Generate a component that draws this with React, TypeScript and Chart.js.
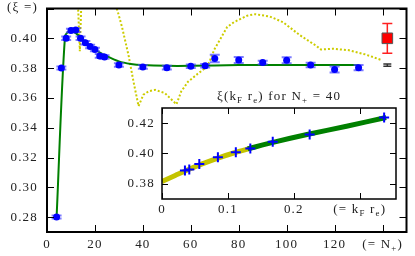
import { useEffect, useRef } from "react";
import { Chart, registerables } from "chart.js";

Chart.register(...registerables);

// ---------- main panel data ----------
const N_VALUES = [4, 6, 8, 10, 12, 14, 16, 18, 20, 22, 24, 30, 40, 50, 60, 66, 70, 80, 90, 100, 110, 120, 130];
const XI_VALUES = [0.28, 0.38, 0.4, 0.4052, 0.4055, 0.4, 0.397, 0.3945, 0.3925, 0.3882, 0.3875, 0.3821, 0.3808, 0.3803, 0.3812, 0.3816, 0.3864, 0.3855, 0.3838, 0.3853, 0.3821, 0.379, 0.3803];
const XI_ERRORS = [0.001, 0.001, 0.0012, 0.0012, 0.0012, 0.0012, 0.0012, 0.0012, 0.0012, 0.0012, 0.0012, 0.0012, 0.0012, 0.0012, 0.0012, 0.0012, 0.0025, 0.002, 0.0012, 0.002, 0.0015, 0.002, 0.0018];

const FIT_N = [4, 7.5, 9.5, 12, 15, 20, 25, 30, 35, 40, 50, 60, 80, 100, 130];
const FIT_XI = [0.28, 0.401, 0.405, 0.4035, 0.399, 0.3925, 0.388, 0.3845, 0.3828, 0.382, 0.3815, 0.3815, 0.382, 0.382, 0.382];

const DOT_N = [12.75, 13.7, 14.45, 20, 26.8, 29.5, 31.3, 34.1, 36.1, 38.2, 40.2, 42.5, 45.1, 49.2, 54.0, 56.0, 58.8, 62.9, 65.6, 67.7, 69.8, 72.5, 75.2, 78.0, 83.5, 86.9, 93.0, 98.5, 105.4, 112.3, 114.3, 119.1, 126.0, 132.8, 139.7];
const DOT_XI = [0.43, 0.3913, 0.43, null, 0.43, 0.418, 0.4076, 0.388, 0.3708, 0.3545, 0.3621, 0.3645, 0.3654, 0.3632, 0.3557, 0.3643, 0.3708, 0.3762, 0.3795, 0.3838, 0.3925, 0.4, 0.4076, 0.4108, 0.4152, 0.4162, 0.4146, 0.4108, 0.4022, 0.395, 0.3925, 0.393, 0.392, 0.3892, 0.3853];

const EXP_N = [142];
const EXP_XI = [0.4];
const EXP_ERR = [0.01];

const REF_N = [142];
const REF_XI = [0.382];
const REF_ERR = [0.0007];

const MAIN_X_TICKS = [0, 20, 40, 60, 80, 100, 120, 140];
const MAIN_X_LABELS = ["0", "20", "40", "60", "80", "100", "120", "(= N_+)"];
const MAIN_Y_TICKS = [0.28, 0.3, 0.32, 0.34, 0.36, 0.38, 0.4, 0.42];
const MAIN_Y_LABELS = ["0.28", "0.30", "0.32", "0.34", "0.36", "0.38", "0.40", "(ξ =)"];

// ---------- inset data ----------
const INSET_TITLE = "ξ(k_F r_e) for N_+ = 40";
const INSET_KR = [0.0348, 0.0414, 0.0566, 0.0848, 0.112, 0.134, 0.168, 0.224, 0.337];
const INSET_XI = [0.3888, 0.3894, 0.393, 0.3976, 0.4009, 0.4033, 0.4077, 0.4125, 0.4237];
const BAND_Y_KR = [0, 0.02, 0.035, 0.06, 0.085, 0.11, 0.135];
const BAND_Y_XI = [0.3815, 0.3855, 0.3885, 0.393, 0.397, 0.4005, 0.4035];
const BAND_G_KR = [0.13, 0.17, 0.22, 0.28, 0.34];
const BAND_G_XI = [0.403, 0.4075, 0.4125, 0.418, 0.4237];
const INSET_X_TICKS = [0, 0.1, 0.2, 0.3];
const INSET_X_LABELS = ["0", "0.1", "0.2", "(= k_F r_e)"];
const INSET_Y_TICKS = [0.38, 0.4, 0.42];
const INSET_Y_LABELS = ["0.38", "0.40", "0.42"];

const FONT_FAMILY = '"Liberation Serif", serif';
const FONT_SIZE = 13;
const TEXT_COLOR = "#222";

function pts(xs: number[], ys: (number | null)[]) {
  return xs.map((x, i) => ({ x, y: ys[i] }));
}

type Part = { t: string; sub: boolean };
function parseRich(s: string): Part[] {
  const parts: Part[] = [];
  let buf = "";
  for (let i = 0; i < s.length; i++) {
    if (s[i] === "_" && i + 1 < s.length) {
      if (buf) parts.push({ t: buf, sub: false });
      buf = "";
      parts.push({ t: s[i + 1], sub: true });
      i++;
    } else buf += s[i];
  }
  if (buf) parts.push({ t: buf, sub: false });
  return parts;
}

function drawRich(ctx: CanvasRenderingContext2D, s: string, x: number, y: number, align: "left" | "center" | "right", size = FONT_SIZE) {
  const parts = parseRich(s);
  ctx.save();
  ctx.textAlign = "left";
  ctx.textBaseline = "middle";
  ctx.fillStyle = TEXT_COLOR;
  (ctx as any).letterSpacing = "1.2px";
  const widths = parts.map((p) => {
    ctx.font = `${p.sub ? size * 0.68 : size}px ${FONT_FAMILY}`;
    return ctx.measureText(p.t).width;
  });
  const total = widths.reduce((a, b) => a + b, 0);
  let cx = align === "center" ? x - total / 2 : align === "right" ? x - total : x;
  parts.forEach((p, i) => {
    ctx.font = `${p.sub ? size * 0.68 : size}px ${FONT_FAMILY}`;
    ctx.fillText(p.t, cx, p.sub ? y + size * 0.28 : y);
    cx += widths[i];
  });
  ctx.restore();
}

const errorBars = {
  id: "errorBars",
  beforeDatasetDraw(chart: any, args: any) {
    const ds = chart.data.datasets[args.index];
    if (!ds.errors) return;
    const { ctx } = chart;
    const yScale = chart.scales.y;
    ctx.save();
    ctx.strokeStyle = ds.errorColor;
    ctx.lineWidth = ds.errorWidth || 1.5;
    args.meta.data.forEach((el: any, j: number) => {
      const v = ds.data[j].y;
      const e = ds.errors[j];
      const x = el.x;
      const y1 = yScale.getPixelForValue(v - e);
      const y2 = yScale.getPixelForValue(v + e);
      const c = ds.capHalf || 5;
      ctx.beginPath();
      ctx.moveTo(x, y1);
      ctx.lineTo(x, y2);
      ctx.moveTo(x - c, y1);
      ctx.lineTo(x + c, y1);
      ctx.moveTo(x - c, y2);
      ctx.lineTo(x + c, y2);
      ctx.stroke();
    });
    ctx.restore();
  },
};

function makeFrame(id: string, opts: {
  xt: number[]; xl: string[]; yt: number[]; yl: string[]; tick: number; border: number;
  yLabelGap: number; xLabelGap: number; whiteBg: boolean; title?: string; topLabelY?: number;
}) {
  return {
    id,
    beforeDraw(chart: any) {
      if (!opts.whiteBg) return;
      const { ctx, chartArea: a } = chart;
      ctx.save();
      ctx.fillStyle = "#fff";
      ctx.fillRect(a.left, a.top, a.right - a.left, a.bottom - a.top);
      ctx.restore();
    },
    afterDraw(chart: any) {
      const { ctx, chartArea: a } = chart;
      const xs = chart.scales.x;
      const ys = chart.scales.y;
      ctx.save();
      ctx.strokeStyle = "#000";
      ctx.lineWidth = 1;
      ctx.beginPath();
      opts.xt.forEach((v) => {
        const px = Math.round(xs.getPixelForValue(v)) + 0.5;
        ctx.moveTo(px, a.bottom);
        ctx.lineTo(px, a.bottom - opts.tick);
        ctx.moveTo(px, a.top);
        ctx.lineTo(px, a.top + opts.tick);
      });
      opts.yt.forEach((v) => {
        const py = Math.round(ys.getPixelForValue(v)) + 0.5;
        ctx.moveTo(a.left, py);
        ctx.lineTo(a.left + opts.tick, py);
        ctx.moveTo(a.right, py);
        ctx.lineTo(a.right - opts.tick, py);
      });
      ctx.stroke();
      ctx.lineWidth = opts.border;
      ctx.strokeRect(a.left, a.top, a.right - a.left, a.bottom - a.top);
      ctx.restore();
      opts.xt.forEach((v, i) => {
        drawRich(ctx, opts.xl[i], xs.getPixelForValue(v), a.bottom + opts.xLabelGap, "center");
      });
      opts.yt.forEach((v, i) => {
        let py = ys.getPixelForValue(v);
        if (opts.topLabelY !== undefined && i === opts.yt.length - 1) py = opts.topLabelY;
        drawRich(ctx, opts.yl[i], a.left - opts.yLabelGap, py, "right");
      });
      if (opts.title) {
        drawRich(ctx, opts.title, (a.left + a.right) / 2, a.top - 11, "center");
      }
    },
  };
}

function fixedScale(min: number, max: number, size: number, axis: "x" | "y") {
  return {
    type: "linear" as const,
    min,
    max,
    ticks: { display: false },
    grid: { display: false },
    border: { display: false },
    afterFit(s: any) {
      if (axis === "x") s.height = size;
      else s.width = size;
    },
  };
}

export default function App() {
  const mainRef = useRef<HTMLCanvasElement>(null);
  const insetRef = useRef<HTMLCanvasElement>(null);

  useEffect(() => {
    const main = new Chart(mainRef.current!, {
      type: "scatter",
      data: {
        datasets: [
          {
            data: pts(N_VALUES, XI_VALUES),
            errors: XI_ERRORS,
            errorColor: "rgba(70,70,255,0.7)",
            errorWidth: 2,
            capHalf: 5,
            pointRadius: 3.5,
            pointBackgroundColor: "#0000ff",
            pointBorderWidth: 0,
            showLine: false,
          } as any,
          {
            data: pts(EXP_N, EXP_XI),
            errors: EXP_ERR,
            errorColor: "#ff2020",
            errorWidth: 1.5,
            capHalf: 5,
            pointStyle: "rect",
            pointRadius: 7.5,
            pointBackgroundColor: "#ff0000",
            pointBorderColor: "#555",
            pointBorderWidth: 1,
            showLine: false,
          } as any,
          {
            data: pts(REF_N, REF_XI),
            errors: REF_ERR,
            errorColor: "#333",
            errorWidth: 1.5,
            capHalf: 4,
            pointRadius: 0,
            showLine: false,
          } as any,
          {
            data: pts(FIT_N, FIT_XI),
            showLine: true,
            borderColor: "#008000",
            borderWidth: 2,
            pointRadius: 0,
            tension: 0.3,
          },
          {
            data: pts(DOT_N, DOT_XI),
            showLine: true,
            spanGaps: false,
            borderColor: "#cccc00",
            borderWidth: 2,
            borderDash: [2, 2],
            pointRadius: 0,
          },
        ],
      },
      options: {
        animation: false,
        responsive: false,
        layout: { padding: { top: 1, right: 3, left: 0, bottom: 0 } },
        plugins: { legend: { display: false }, tooltip: { enabled: false } },
        scales: {
          x: fixedScale(0, 150, 24, "x"),
          y: fixedScale(0.27, 0.42, 47, "y"),
        },
      },
      plugins: [
        errorBars,
        makeFrame("mainFrame", {
          xt: MAIN_X_TICKS, xl: MAIN_X_LABELS, yt: MAIN_Y_TICKS, yl: MAIN_Y_LABELS,
          tick: 7, border: 2, yLabelGap: 9, xLabelGap: 13, whiteBg: false, topLabelY: 8,
        }),
      ],
    });

    const inset = new Chart(insetRef.current!, {
      type: "scatter",
      data: {
        datasets: [
          {
            data: pts(INSET_KR, INSET_XI),
            pointStyle: "cross",
            pointRadius: 5,
            pointBorderColor: "#0000ff",
            pointBorderWidth: 2,
            showLine: false,
          },
          {
            data: pts(BAND_G_KR, BAND_G_XI),
            showLine: true,
            borderColor: "#008000",
            borderWidth: 5,
            pointRadius: 0,
            tension: 0.3,
          },
          {
            data: pts(BAND_Y_KR, BAND_Y_XI),
            showLine: true,
            borderColor: "#c4c400",
            borderWidth: 5,
            pointRadius: 0,
            tension: 0.3,
          },
        ],
      },
      options: {
        animation: false,
        responsive: false,
        layout: { padding: { top: 22, right: 14, left: 0, bottom: 0 } },
        plugins: { legend: { display: false }, tooltip: { enabled: false } },
        scales: {
          x: fixedScale(0, 0.355, 21, "x"),
          y: fixedScale(0.37, 0.43, 52, "y"),
        },
      },
      plugins: [
        makeFrame("insetFrame", {
          xt: INSET_X_TICKS, xl: INSET_X_LABELS, yt: INSET_Y_TICKS, yl: INSET_Y_LABELS,
          tick: 6, border: 1.5, yLabelGap: 7, xLabelGap: 11, whiteBg: true, title: INSET_TITLE,
        }),
      ],
    });

    return () => {
      main.destroy();
      inset.destroy();
    };
  }, []);

  return (
    <div style={{ position: "fixed", left: 0, top: 0, width: 415, height: 256, background: "#fff" }}>
      <canvas ref={mainRef} width={415} height={256} style={{ position: "absolute", left: 0, top: 0, display: "block" }} />
      <canvas ref={insetRef} width={300} height={134} style={{ position: "absolute", left: 110, top: 86, display: "block" }} />
    </div>
  );
}
